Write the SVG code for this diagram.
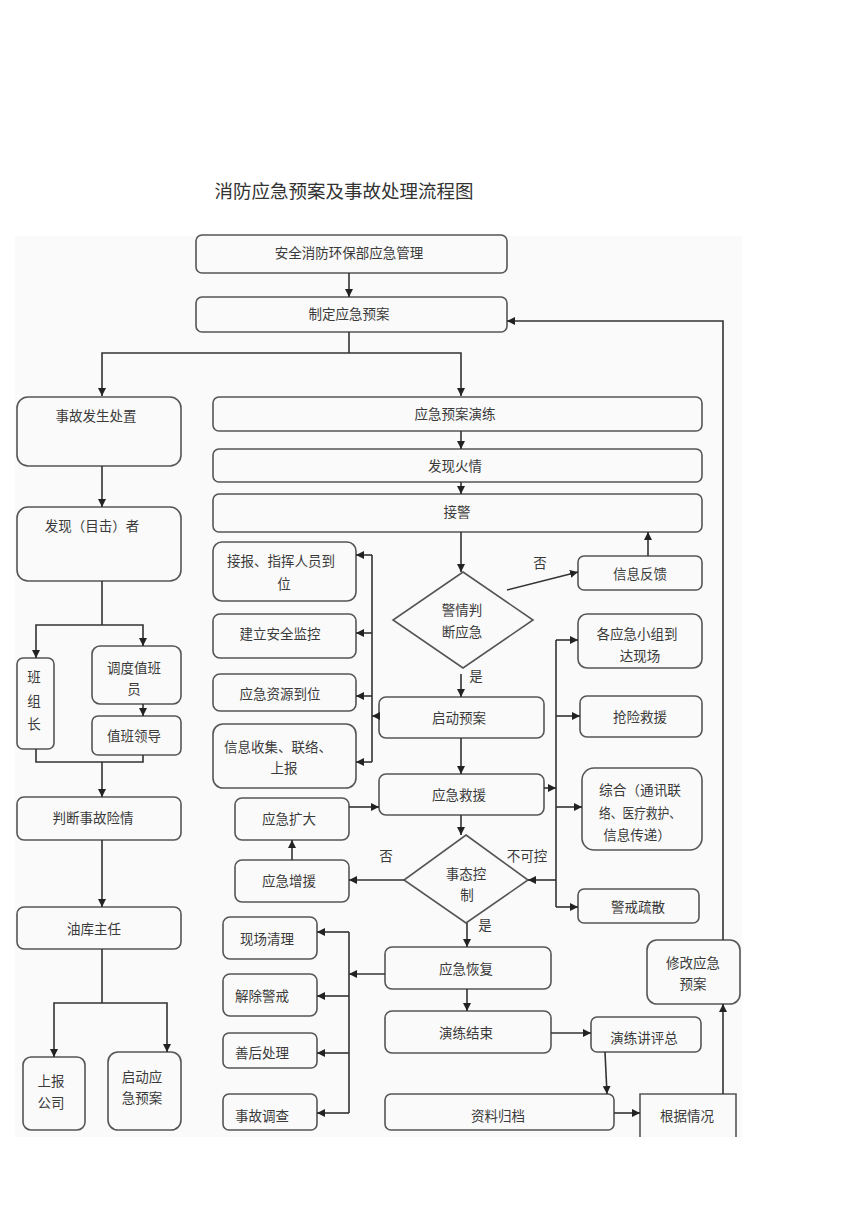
<svg xmlns="http://www.w3.org/2000/svg" width="860" height="1218" viewBox="0 0 860 1218">
<defs>
<marker id="ah" markerWidth="8" markerHeight="8" refX="8" refY="4" orient="auto" markerUnits="userSpaceOnUse">
<path d="M0,0 L8,4 L0,8 z" fill="#222"/>
</marker>
<style>
.b{fill:none;stroke:#555;stroke-width:1.6}
.t{font-family:"Noto Sans CJK SC","Noto Sans",sans-serif;font-size:13.5px;fill:#3a3a3a;text-anchor:middle;dominant-baseline:central}
.c path{fill:none;stroke:#333;stroke-width:1.6}
.a{marker-end:url(#ah)}
</style>
</defs>
<rect width="860" height="1218" fill="#fff"/>
<rect x="15" y="236" width="727" height="901" fill="#fafafa"/>
<text x="344" y="190" style="font-family:'Noto Sans CJK SC',sans-serif;font-size:18.5px;fill:#333;text-anchor:middle;dominant-baseline:central">消防应急预案及事故处理流程图</text>

<g id="n1"><rect class="b" x="196" y="235" width="311" height="38" rx="6"/><text class="t" x="349" y="252">安全消防环保部应急管理</text></g>
<g id="n2"><rect class="b" x="196" y="297" width="311" height="35" rx="6"/><text class="t" x="349" y="313">制定应急预案</text></g>
<g id="n3"><rect class="b" x="17" y="397" width="164" height="69" rx="11"/><text class="t" x="96" y="415">事故发生处置</text></g>
<g id="n4"><rect class="b" x="213" y="397" width="489" height="34" rx="6"/><text class="t" x="455" y="413">应急预案演练</text></g>
<g id="n5"><rect class="b" x="213" y="449" width="489" height="33" rx="6"/><text class="t" x="455" y="465">发现火情</text></g>
<g id="n6"><rect class="b" x="213" y="494" width="489" height="38" rx="6"/><text class="t" x="457" y="511">接警</text></g>
<g id="n7"><rect class="b" x="17" y="507" width="164" height="74" rx="11"/><text class="t" x="92" y="525">发现（目击）者</text></g>
<g id="n8"><rect class="b" x="17" y="658" width="37" height="91" rx="6"/><text class="t" x="34" y="676">班</text><text class="t" x="34" y="700">组</text><text class="t" x="34" y="723">长</text></g>
<g id="n9"><rect class="b" x="92" y="646" width="89" height="58" rx="8"/><text class="t" x="134" y="667">调度值班</text><text class="t" x="134" y="688">员</text></g>
<g id="n10"><rect class="b" x="92" y="716" width="89" height="39" rx="6"/><text class="t" x="134" y="735">值班领导</text></g>
<g id="n11"><rect class="b" x="17" y="797" width="164" height="43" rx="7"/><text class="t" x="93" y="817">判断事故险情</text></g>
<g id="n12"><rect class="b" x="17" y="907" width="164" height="42" rx="7"/><text class="t" x="94" y="928">油库主任</text></g>
<g id="n13"><rect class="b" x="23" y="1057" width="62" height="73" rx="8"/><text class="t" x="51" y="1080">上报</text><text class="t" x="51" y="1102">公司</text></g>
<g id="n14"><rect class="b" x="108" y="1052" width="73" height="78" rx="10"/><text class="t" x="142" y="1076">启动应</text><text class="t" x="142" y="1097">急预案</text></g>

<g id="n15"><rect class="b" x="213" y="542" width="143" height="59" rx="9"/><text class="t" x="281" y="560">接报、指挥人员到</text><text class="t" x="284" y="583">位</text></g>
<g id="n16"><rect class="b" x="213" y="614" width="143" height="44" rx="7"/><text class="t" x="280" y="633">建立安全监控</text></g>
<g id="n17"><rect class="b" x="213" y="674" width="143" height="37" rx="7"/><text class="t" x="280" y="693">应急资源到位</text></g>
<g id="n18"><rect class="b" x="213" y="724" width="143" height="64" rx="10"/><text class="t" x="278" y="746">信息收集、联络、</text><text class="t" x="284" y="767">上报</text></g>

<g id="n19"><path class="b" d="M463,572 L533,620 L463,668 L393,620 Z"/><text class="t" x="462" y="609">警情判</text><text class="t" x="462" y="631">断应急</text></g>
<g id="n20"><rect class="b" x="578" y="556" width="124" height="34" rx="6"/><text class="t" x="640" y="573">信息反馈</text></g>
<g id="n21"><rect class="b" x="379" y="697" width="165" height="41" rx="7"/><text class="t" x="459" y="717">启动预案</text></g>
<g id="n22"><rect class="b" x="379" y="774" width="165" height="41" rx="7"/><text class="t" x="459" y="794">应急救援</text></g>
<g id="n23"><rect class="b" x="578" y="614" width="124" height="54" rx="9"/><text class="t" x="637" y="633">各应急小组到</text><text class="t" x="640" y="655">达现场</text></g>
<g id="n24"><rect class="b" x="580" y="696" width="122" height="41" rx="7"/><text class="t" x="640" y="716">抢险救援</text></g>
<g id="n25"><rect class="b" x="582" y="768" width="120" height="82" rx="12"/><text class="t" x="640" y="789" textLength="82" lengthAdjust="spacingAndGlyphs">综合（通讯联</text><text class="t" x="640" y="812" textLength="82" lengthAdjust="spacingAndGlyphs">络、医疗救护、</text><text class="t" x="637" y="834">信息传递）</text></g>
<g id="n26"><rect class="b" x="578" y="889" width="121" height="34" rx="6"/><text class="t" x="638" y="906">警戒疏散</text></g>
<g id="n27"><path class="b" d="M466,835 L528,880 L466,923 L404,880 Z"/><text class="t" x="466" y="873">事态控</text><text class="t" x="467" y="894">制</text></g>
<g id="n28"><rect class="b" x="235" y="798" width="114" height="42" rx="7"/><text class="t" x="289" y="818">应急扩大</text></g>
<g id="n29"><rect class="b" x="235" y="860" width="114" height="42" rx="7"/><text class="t" x="289" y="880">应急增援</text></g>
<g id="n30"><rect class="b" x="385" y="947" width="166" height="42" rx="7"/><text class="t" x="466" y="968">应急恢复</text></g>
<g id="n31"><rect class="b" x="385" y="1011" width="166" height="42" rx="7"/><text class="t" x="466" y="1032">演练结束</text></g>
<g id="n32"><rect class="b" x="591" y="1017" width="110" height="35" rx="6"/><text class="t" x="644" y="1037">演练讲评总</text></g>
<g id="n33"><rect class="b" x="385" y="1094" width="229" height="36" rx="6"/><text class="t" x="498" y="1115">资料归档</text></g>
<g id="n34"><path class="b" d="M640,1137 V1094 H736 V1137"/><text class="t" x="687" y="1115">根据情况</text></g>
<g id="n35"><rect class="b" x="647" y="940" width="93" height="64" rx="10"/><text class="t" x="693" y="962">修改应急</text><text class="t" x="693" y="983">预案</text></g>
<g id="n36"><rect class="b" x="223" y="917" width="94" height="42" rx="7"/><text class="t" x="267" y="938">现场清理</text></g>
<g id="n37"><rect class="b" x="223" y="974" width="94" height="42" rx="7"/><text class="t" x="262" y="995">解除警戒</text></g>
<g id="n38"><rect class="b" x="223" y="1033" width="94" height="35" rx="6"/><text class="t" x="262" y="1052">善后处理</text></g>
<g id="n39"><rect class="b" x="223" y="1094" width="94" height="36" rx="6"/><text class="t" x="262" y="1115">事故调查</text></g>

<g id="labels">
<text class="t" x="540" y="562">否</text>
<text class="t" x="476" y="675">是</text>
<text class="t" x="527" y="855">不可控</text>
<text class="t" x="386" y="855">否</text>
<text class="t" x="485" y="924">是</text>
</g>

<g id="connectors" class="c">
<path class="a" d="M349,273 V297"/>
<path d="M349,332 V353"/>
<path class="a" d="M349,353 H102 V396"/>
<path class="a" d="M349,353 H461 V396"/>
<path class="a" d="M461,431 V449"/>
<path class="a" d="M461,482 V494"/>
<path class="a" d="M461,532 V572"/>
<path class="a" d="M507,590 L578,572"/>
<path class="a" d="M648,556 V532"/>
<path class="a" d="M461,674 V697"/>
<path class="a" d="M461,738 V774"/>
<path class="a" d="M461,815 V835"/>
<path class="a" d="M467,923 V947"/>
<path class="a" d="M467,989 V1011"/>
<path class="a" d="M551,1033 H591"/>
<path class="a" d="M605,1052 L607,1094"/>
<path class="a" d="M614,1113 H640"/>
<path class="a" d="M723,1094 V1004"/>
<path class="a" d="M723,940 V321 H507"/>
<path d="M372,555 V762"/>
<path class="a" d="M372,555 H356"/>
<path class="a" d="M372,633 H356"/>
<path class="a" d="M372,696 H356"/>
<path class="a" d="M372,762 H356"/>
<path class="a" d="M379,716 H372"/>
<path d="M556,640 V907"/>
<path class="a" d="M556,640 H578"/>
<path class="a" d="M556,716 H580"/>
<path class="a" d="M556,807 H582"/>
<path class="a" d="M556,907 H578"/>
<path class="a" d="M544,788 H556"/>
<path class="a" d="M556,880 H528"/>
<path class="a" d="M404,880 H349"/>
<path class="a" d="M292,860 V840"/>
<path class="a" d="M349,807 H379"/>
<path d="M349,932 V1113"/>
<path class="a" d="M349,932 H317"/>
<path class="a" d="M349,996 H317"/>
<path class="a" d="M349,1053 H317"/>
<path class="a" d="M349,1113 H317"/>
<path class="a" d="M385,974 H349"/>
<path class="a" d="M102,466 V507"/>
<path d="M102,581 V625"/>
<path class="a" d="M102,625 H36 V658"/>
<path class="a" d="M102,625 H143 V646"/>
<path class="a" d="M143,704 V716"/>
<path d="M36,749 V762 H143 V755"/>
<path class="a" d="M102,762 V797"/>
<path class="a" d="M102,840 V907"/>
<path d="M102,949 V1003"/>
<path class="a" d="M102,1003 H54 V1057"/>
<path class="a" d="M102,1003 H167 V1052"/>
</g>
</svg>
